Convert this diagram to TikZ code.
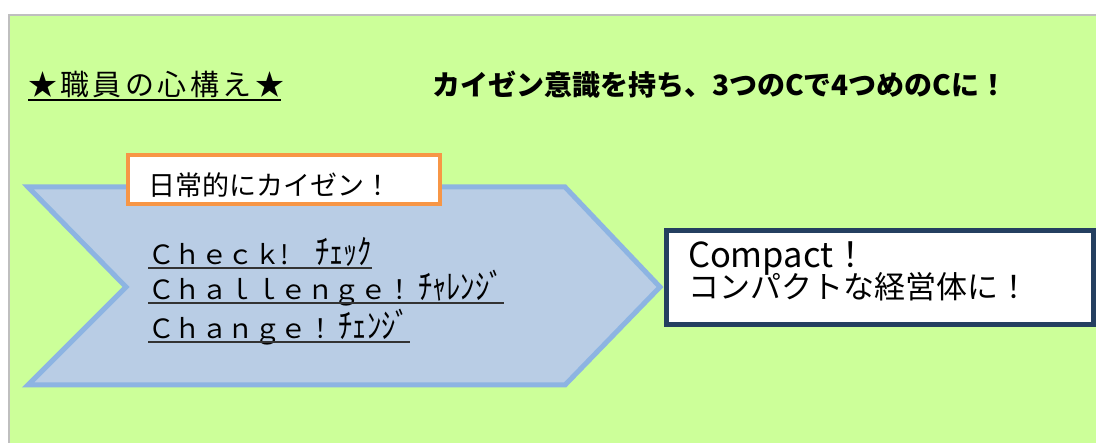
\documentclass[tikz,border=0pt]{standalone}
\usepackage{fontspec}
\setmainfont{Noto Sans CJK JP}
\definecolor{bggreen}{HTML}{CCFF99}
\definecolor{bgframe}{HTML}{BFBFBF}
\definecolor{chevfill}{HTML}{B9CDE5}
\definecolor{chevline}{HTML}{8DB4E2}
\definecolor{orangeline}{HTML}{F79646}
\definecolor{navyline}{HTML}{243F60}
\definecolor{ulcol}{HTML}{333333}
\newcommand\hwkana[1]{\scalebox{1.08}[1.3]{#1}}
\tikzset{
  panel/.style={fill=bggreen, draw=bgframe, line width=2pt},
  chevron/.style={fill=chevfill, draw=chevline, line width=5pt, line join=miter},
  obox/.style={draw=orangeline, fill=white, line width=4pt, minimum width=312pt, minimum height=49pt, inner sep=0pt, outer sep=0pt},
  cbox/.style={draw=navyline, fill=white, line width=5pt, minimum width=427pt, minimum height=94pt, inner sep=0pt, outer sep=0pt},
  txt/.style={anchor=base west, inner sep=0pt, outer sep=0pt, text=black},
  uline/.style={draw=ulcol, line width=1.6pt},
  tline/.style={draw=black, line width=2.2pt}
}
\begin{document}
\begin{tikzpicture}[x=1pt,y=-1pt]
\useasboundingbox (0,0) rectangle (1096,443);
\fill[white] (0,0) rectangle (1096,443);
\draw[panel] (9,15) rectangle (1102,450);
% titles
\node[txt] (t1) at (28,96) {\fontsize{29}{32}\selectfont\addfontfeature{LetterSpace=12}★職員の心構え★};
\draw[tline] ([yshift=-4pt]t1.base west) -- ([yshift=-4pt,xshift=-3pt]t1.base east);
\node[txt] (t2) at (432,96) {\bfseries\fontsize{28}{32}\selectfont カイゼン意識を持ち、3つのCで4つめのCに！};
% chevron
\draw[chevron] (28,187) coordinate (cA) -- (565,187) coordinate (cB) -- (660,287) coordinate (tip)
  -- (565,385) coordinate (cC) -- (28,385) coordinate (cD) -- (126,287) coordinate (notch) -- cycle;
% orange box
\node[obox] (kaizen) at (284,179.5) {};
\node[txt] (kaizenText) at (148,196) {\fontsize{27}{30}\selectfont 日常的にカイゼン！};
% three C lines
\node[txt] (l1) at (148,265) {\fontsize{26.5}{30}\selectfont Ｃｈｅｃｋ!\hspace{26pt}\hwkana{ﾁｪｯｸ}};
\draw[uline] ([yshift=-3pt]l1.base west) -- ([yshift=-3pt]l1.base east);
\node[txt] (l2) at (148,300) {\fontsize{26.5}{30}\selectfont Ｃｈａｌｌｅｎｇｅ！\hspace{5pt}\hwkana{ﾁｬﾚﾝｼﾞ}\hspace{4pt}};
\draw[uline] ([yshift=-3pt]l2.base west) -- ([yshift=-3pt]l2.base east);
\node[txt] (l3) at (148,339) {\fontsize{26.5}{30}\selectfont Ｃｈａｎｇｅ！\hspace{5pt}\hwkana{ﾁｪﾝｼﾞ}\hspace{3pt}};
\draw[uline] ([yshift=-3pt]l3.base west) -- ([yshift=-3pt]l3.base east);
% compact box
\node[cbox] (compact) at (880,277.5) {};
\node[txt] (c1) at (688,268) {\fontsize{34.5}{40}\selectfont Compact！};
\node[txt] (c2) at (688,299) {\fontsize{31}{35}\selectfont コンパクトな経営体に！};
\end{tikzpicture}
\end{document}
